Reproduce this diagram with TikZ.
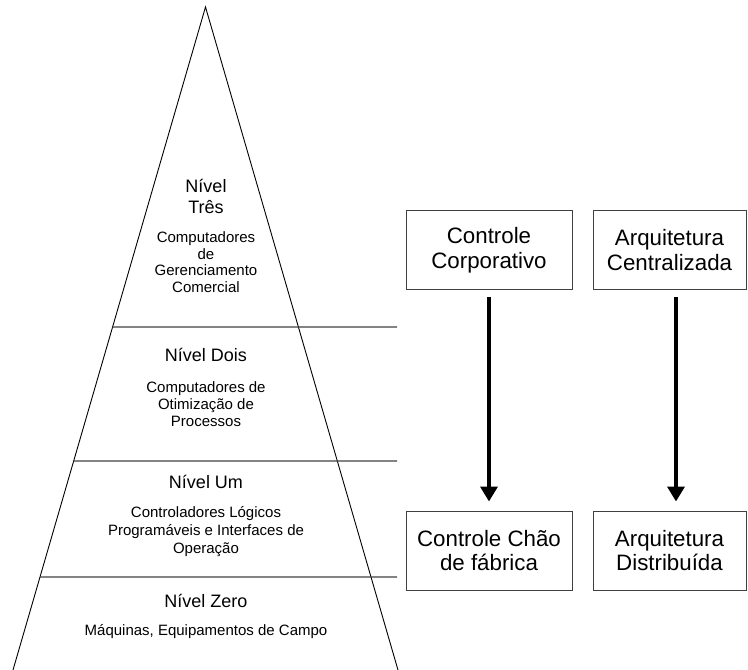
\documentclass[tikz,border=0pt]{standalone}
\usepackage{fontspec}
\setmainfont{Liberation Sans}
\usetikzlibrary{arrows.meta,calc}
\begin{document}
\begin{tikzpicture}[x=1pt,y=-1pt,
  side/.style={line width=0.9pt, black},
  divider/.style={line width=1.3pt, black!75},
  title/.style={font=\fontsize{18}{21}\selectfont, align=center, anchor=base, inner sep=0pt},
  desc/.style={font=\fontsize{15}{17}\selectfont, align=center, anchor=base, inner sep=0pt},
  box/.style={draw=black!75, line width=1pt, minimum height=79pt, align=center,
              font=\fontsize{22.3}{24.5}\selectfont, inner sep=0pt},
  flow/.style={line width=3.6pt, -{Triangle[length=15pt,width=17pt]}}
]
\useasboundingbox (0,0) rectangle (748,670);
% pyramid
\coordinate (apex) at (205.5,7);
\coordinate (bl) at (13,670);
\coordinate (br) at (398,670);
\draw[side] (bl) -- (apex) -- (br);
\coordinate (d3) at ($(apex)!0.48265!(bl)$);
\coordinate (d3e) at (397,327);
\coordinate (d2) at ($(apex)!0.68477!(bl)$);
\coordinate (d2e) at (397,461);
\coordinate (d1) at ($(apex)!0.85973!(bl)$);
\coordinate (d1e) at (397,577);
\draw[divider] (d3) -- (d3e);
\draw[divider] (d2) -- (d2e);
\draw[divider] (d1) -- (d1e);
% level texts (anchor base = baseline of the last line)
\node[title] (t3) at (206,213) {Nível\\Três};
\node[desc, font=\fontsize{15}{16.5}\selectfont] (s3) at (206,292) {Computadores\\de\\Gerenciamento\\Comercial};
\node[title] (t2) at (206,361) {Nível Dois};
\node[desc] (s2) at (206,426) {Computadores de\\Otimização de\\Processos};
\node[title] (t1) at (206,488) {Nível Um};
\node[desc, font=\fontsize{15}{18}\selectfont] (s1) at (206,553) {Controladores Lógicos\\Programáveis e Interfaces de\\Operação};
\node[title] (t0) at (206,607) {Nível Zero};
\node[desc] (s0) at (206,635) {Máquinas, Equipamentos de Campo};
% boxes
\node[box, minimum width=166pt] (b1) at (489,250) {Controle\\Corporativo};
\node[box, minimum width=153pt] (b2) at (669.5,250) {Arquitetura\\Centralizada};
\node[box, minimum width=166pt] (b3) at (489,550.5) {Controle Chão\\de fábrica};
\node[box, minimum width=153pt] (b4) at (669.5,550.5) {Arquitetura\\Distribuída};
% arrows
\draw[flow, shorten <=7pt, shorten >=9pt] (b1.south) -- (b3.north);
\draw[flow, shorten <=7pt, shorten >=9pt] ([xshift=6.5pt]b2.south) -- ([xshift=6.5pt]b4.north);
\end{tikzpicture}
\end{document}
